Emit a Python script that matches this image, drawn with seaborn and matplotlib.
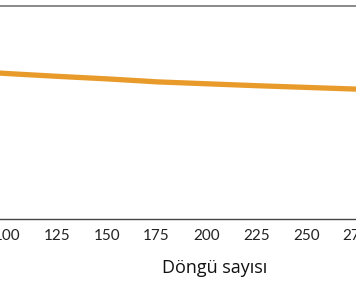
import matplotlib
matplotlib.use("Agg")
import matplotlib.pyplot as plt
import seaborn as sns
import pandas as pd

cycles = [95, 100, 125, 150, 170, 175, 200, 225, 250, 275]
retention = [68.5, 68.2, 66.9, 65.7, 64.6, 64.3, 63.4, 62.5, 61.7, 60.9]
xticks = [100, 125, 150, 175, 200, 225, 250, 275]
xlabel = "Döngü sayısı"

sns.set_theme(style="white")
plt.rcParams['font.family'] = ['Lato', 'DejaVu Sans']

df = pd.DataFrame({"cycle": cycles, "retention": retention})

fig = plt.figure(figsize=(3.56, 2.84), dpi=100)
ax = fig.add_axes([0, 65 / 284, 1, (219 - 5.7) / 284])
sns.lineplot(data=df, x="cycle", y="retention", ax=ax, color="#E89B2A",
             linewidth=3.8, solid_capstyle="butt")

ax.set_xlim(96.5, 272.1)
ax.set_ylim(0, 100)
ax.set_xticks(xticks)
ax.set_xticklabels([str(t) for t in xticks])
ax.set_yticks([])
ax.set_xlabel("")
ax.set_ylabel("")
ax.tick_params(axis="x", direction="in", length=5, width=0.9, color="#444444",
               pad=7, labelsize=11, labelcolor="#222222")
for s in ["left", "right"]:
    ax.spines[s].set_visible(False)
ax.spines["bottom"].set_color("#444444")
ax.spines["bottom"].set_linewidth(1.0)
ax.spines["top"].set_color("#808080")
ax.spines["top"].set_linewidth(1.3)

ax.text(215 / 356, (219 - 268) / 213.3, xlabel, transform=ax.transAxes,
        ha="center", va="center", fontsize=13, color="#111111",
        family=["Open Sans", "DejaVu Sans"])

fig.savefig("out.png", dpi=100)
